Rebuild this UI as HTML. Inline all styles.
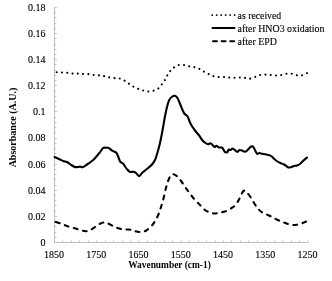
<!DOCTYPE html>
<html><head><meta charset="utf-8"><title>FTIR spectra</title>
<style>
html,body{margin:0;padding:0;background:#fff;}
body{width:332px;height:281px;overflow:hidden;}
svg{display:block;}
text{font-family:"Liberation Serif","Times New Roman",serif;font-size:10px;fill:#000;stroke:#000;stroke-width:0.12px;}
.b{font-weight:bold;stroke:none;}
</style></head><body>
<svg width="332" height="281" viewBox="0 0 332 281">
<rect width="332" height="281" fill="#fff"/>
<path d="M54.50 7.50 V242.50 H308.00 M54.50 242.50 h2.4 M54.50 237.50 h1.8 M54.50 232.50 h1.8 M54.50 226.50 h1.8 M54.50 221.50 h1.8 M54.50 216.50 h2.4 M54.50 211.50 h1.8 M54.50 205.50 h1.8 M54.50 200.50 h1.8 M54.50 195.50 h1.8 M54.50 190.50 h2.4 M54.50 185.50 h1.8 M54.50 179.50 h1.8 M54.50 174.50 h1.8 M54.50 169.50 h1.8 M54.50 164.50 h2.4 M54.50 158.50 h1.8 M54.50 153.50 h1.8 M54.50 148.50 h1.8 M54.50 143.50 h1.8 M54.50 138.50 h2.4 M54.50 132.50 h1.8 M54.50 127.50 h1.8 M54.50 122.50 h1.8 M54.50 117.50 h1.8 M54.50 111.50 h2.4 M54.50 106.50 h1.8 M54.50 101.50 h1.8 M54.50 96.50 h1.8 M54.50 91.50 h1.8 M54.50 85.50 h2.4 M54.50 80.50 h1.8 M54.50 75.50 h1.8 M54.50 70.50 h1.8 M54.50 64.50 h1.8 M54.50 59.50 h2.4 M54.50 54.50 h1.8 M54.50 49.50 h1.8 M54.50 44.50 h1.8 M54.50 38.50 h1.8 M54.50 33.50 h2.4 M54.50 28.50 h1.8 M54.50 23.50 h1.8 M54.50 17.50 h1.8 M54.50 12.50 h1.8 M54.50 7.50 h2.4 M54.50 242.50 v-1.9 M62.50 242.50 v-1.9 M71.50 242.50 v-1.9 M79.50 242.50 v-1.9 M88.50 242.50 v-1.9 M96.50 242.50 v-1.9 M105.50 242.50 v-1.9 M113.50 242.50 v-1.9 M122.50 242.50 v-1.9 M130.50 242.50 v-1.9 M138.50 242.50 v-1.9 M147.50 242.50 v-1.9 M155.50 242.50 v-1.9 M164.50 242.50 v-1.9 M172.50 242.50 v-1.9 M181.50 242.50 v-1.9 M189.50 242.50 v-1.9 M198.50 242.50 v-1.9 M206.50 242.50 v-1.9 M215.50 242.50 v-1.9 M223.50 242.50 v-1.9 M231.50 242.50 v-1.9 M240.50 242.50 v-1.9 M248.50 242.50 v-1.9 M257.50 242.50 v-1.9 M265.50 242.50 v-1.9 M274.50 242.50 v-1.9 M282.50 242.50 v-1.9 M291.50 242.50 v-1.9 M299.50 242.50 v-1.9 M308.50 242.50 v-1.9" fill="none" stroke="#b2b2b2" stroke-width="0.8"/>
<text x="45.6" y="245.50" text-anchor="end">0</text>
<text x="45.6" y="220.09" text-anchor="end">0.02</text>
<text x="45.6" y="193.98" text-anchor="end">0.04</text>
<text x="45.6" y="167.87" text-anchor="end">0.06</text>
<text x="45.6" y="141.06" text-anchor="end">0.08</text>
<text x="45.6" y="114.94" text-anchor="end">0.1</text>
<text x="45.6" y="88.83" text-anchor="end">0.12</text>
<text x="45.6" y="62.72" text-anchor="end">0.14</text>
<text x="45.6" y="36.61" text-anchor="end">0.16</text>
<text x="45.6" y="10.50" text-anchor="end">0.18</text>
<text x="54.00" y="257.9" text-anchor="middle">1850</text>
<text x="96.25" y="257.9" text-anchor="middle">1750</text>
<text x="138.50" y="257.9" text-anchor="middle">1650</text>
<text x="180.75" y="257.9" text-anchor="middle">1550</text>
<text x="223.00" y="257.9" text-anchor="middle">1450</text>
<text x="265.25" y="257.9" text-anchor="middle">1350</text>
<text x="307.50" y="257.9" text-anchor="middle">1250</text>
<text class="b" style="font-size:9.6px" x="169.5" y="267.5" text-anchor="middle" textLength="82.6" lengthAdjust="spacingAndGlyphs">Wavenumber (cm-1)</text>
<text class="b" transform="translate(15.5 127.5) rotate(-90)" text-anchor="middle">Absorbance (A.U.)</text>
<path d="M54.50 72.20 C54.88 72.21 55.50 72.20 56.75 72.25 C58.00 72.30 60.21 72.42 62.00 72.50 C63.79 72.58 65.67 72.57 67.50 72.75 C69.33 72.93 71.25 73.46 73.00 73.60 C74.75 73.74 76.29 73.53 78.00 73.60 C79.71 73.67 81.46 73.90 83.25 74.00 C85.04 74.10 86.96 74.03 88.75 74.20 C90.54 74.37 92.21 74.80 94.00 75.00 C95.79 75.20 97.75 75.20 99.50 75.40 C101.25 75.60 102.83 75.87 104.50 76.20 C106.17 76.53 107.75 77.07 109.50 77.40 C111.25 77.73 113.25 78.00 115.00 78.20 C116.75 78.40 118.42 78.20 120.00 78.60 C121.58 79.00 123.04 79.78 124.50 80.60 C125.96 81.42 127.21 82.47 128.75 83.50 C130.29 84.53 132.21 85.88 133.75 86.75 C135.29 87.62 136.46 88.12 138.00 88.75 C139.54 89.38 141.33 90.04 143.00 90.50 C144.67 90.96 146.29 91.46 148.00 91.50 C149.71 91.54 151.58 91.21 153.25 90.75 C154.92 90.29 156.67 89.71 158.00 88.75 C159.33 87.79 160.29 86.12 161.25 85.00 C162.21 83.88 163.04 83.04 163.75 82.00 C164.46 80.96 164.88 79.92 165.50 78.75 C166.12 77.58 166.75 76.25 167.50 75.00 C168.25 73.75 168.96 72.50 170.00 71.25 C171.04 70.00 172.29 68.54 173.75 67.50 C175.21 66.46 177.08 65.42 178.75 65.00 C180.42 64.58 182.08 64.79 183.75 65.00 C185.42 65.21 187.08 65.92 188.75 66.25 C190.42 66.58 192.08 66.62 193.75 67.00 C195.42 67.38 197.17 67.79 198.75 68.50 C200.33 69.21 201.71 70.38 203.25 71.25 C204.79 72.12 206.38 72.96 208.00 73.75 C209.62 74.54 211.33 75.46 213.00 76.00 C214.67 76.54 216.29 76.83 218.00 77.00 C219.71 77.17 221.54 76.92 223.25 77.00 C224.96 77.08 226.50 77.38 228.25 77.50 C230.00 77.62 231.96 77.75 233.75 77.75 C235.54 77.75 237.25 77.50 239.00 77.50 C240.75 77.50 242.50 77.54 244.25 77.75 C246.00 77.96 247.71 78.88 249.50 78.75 C251.29 78.62 253.25 77.62 255.00 77.00 C256.75 76.38 258.33 75.40 260.00 75.00 C261.67 74.60 263.25 74.60 265.00 74.60 C266.75 74.60 268.67 74.85 270.50 75.00 C272.33 75.15 274.25 75.50 276.00 75.50 C277.75 75.50 279.25 75.29 281.00 75.00 C282.75 74.71 284.67 73.96 286.50 73.75 C288.33 73.54 290.21 73.50 292.00 73.75 C293.79 74.00 295.54 75.00 297.25 75.25 C298.96 75.50 300.58 75.62 302.25 75.25 C303.92 74.88 306.34 73.41 307.25 73.00 C308.16 72.59 307.62 72.83 307.70 72.80" fill="none" stroke="#000" stroke-width="2.1" stroke-linecap="round" stroke-linejoin="round" stroke-dasharray="0.01 5.28" stroke-dashoffset="-2.2"/>
<path d="M54.50 157.00 C55.14 157.29 58.92 159.00 60.00 159.50 C61.08 160.00 62.93 160.96 63.75 161.25 C64.57 161.54 66.12 161.56 67.00 162.00 C67.88 162.44 70.32 164.42 71.25 165.00 C72.18 165.58 74.12 166.77 75.00 167.00 C75.88 167.23 78.17 167.06 78.75 167.00 C79.33 166.94 79.56 166.47 80.00 166.50 C80.44 166.53 81.77 167.43 82.50 167.25 C83.23 167.07 85.38 165.55 86.25 165.00 C87.12 164.45 89.12 163.14 90.00 162.50 C90.88 161.86 92.88 160.35 93.75 159.50 C94.62 158.65 96.77 156.05 97.50 155.20 C98.23 154.35 99.36 153.04 100.00 152.20 C100.64 151.36 102.36 148.53 103.00 148.00 C103.64 147.47 104.85 147.71 105.50 147.70 C106.15 147.69 107.82 147.55 108.60 147.90 C109.38 148.25 111.31 150.15 112.20 150.70 C113.09 151.25 115.52 151.98 116.20 152.60 C116.88 153.22 117.58 155.02 118.00 156.00 C118.42 156.98 119.38 160.21 119.80 161.00 C120.22 161.79 121.17 162.46 121.60 162.80 C122.03 163.14 123.10 163.47 123.50 163.90 C123.90 164.33 124.50 165.79 125.00 166.50 C125.50 167.21 127.17 169.37 127.75 170.00 C128.33 170.63 129.30 171.69 130.00 171.90 C130.70 172.11 133.02 171.64 133.75 171.80 C134.48 171.96 135.61 172.73 136.25 173.25 C136.89 173.77 138.58 176.28 139.25 176.25 C139.92 176.22 141.33 173.67 142.00 173.00 C142.67 172.33 144.21 171.14 145.00 170.50 C145.79 169.86 147.93 168.20 148.75 167.50 C149.57 166.80 151.27 165.38 152.00 164.50 C152.73 163.62 154.36 161.40 155.00 160.00 C155.64 158.60 156.92 154.48 157.50 152.50 C158.08 150.52 159.42 145.57 160.00 143.00 C160.58 140.43 161.92 133.62 162.50 130.50 C163.08 127.38 164.42 119.22 165.00 116.25 C165.58 113.28 166.97 106.95 167.50 105.00 C168.03 103.05 168.97 100.46 169.50 99.50 C170.03 98.54 171.36 97.19 172.00 96.75 C172.64 96.31 174.36 95.60 175.00 95.75 C175.64 95.90 176.92 97.07 177.50 98.00 C178.08 98.93 179.42 102.35 180.00 103.75 C180.58 105.15 181.97 108.83 182.50 110.00 C183.03 111.17 183.92 113.02 184.50 113.75 C185.08 114.48 186.92 115.38 187.50 116.25 C188.08 117.12 189.06 120.23 189.50 121.25 C189.94 122.27 190.61 123.92 191.25 125.00 C191.89 126.08 194.12 129.33 195.00 130.50 C195.88 131.67 197.88 133.83 198.75 135.00 C199.62 136.17 201.71 139.57 202.50 140.50 C203.29 141.43 204.86 142.56 205.50 143.00 C206.14 143.44 207.42 144.22 208.00 144.25 C208.58 144.28 209.97 143.16 210.50 143.25 C211.03 143.34 212.03 144.56 212.50 145.00 C212.97 145.44 214.03 146.91 214.50 147.00 C214.97 147.09 216.00 145.69 216.50 145.75 C217.00 145.81 218.11 147.30 218.75 147.50 C219.39 147.70 221.42 147.21 222.00 147.50 C222.58 147.79 223.40 149.47 223.75 150.00 C224.10 150.53 224.56 151.77 225.00 152.00 C225.44 152.23 227.07 152.28 227.50 152.00 C227.93 151.72 228.35 149.83 228.70 149.60 C229.05 149.37 230.03 150.13 230.50 150.00 C230.97 149.87 232.16 148.48 232.70 148.50 C233.24 148.52 234.57 149.79 235.10 150.20 C235.62 150.61 236.69 152.02 237.20 152.00 C237.71 151.98 238.94 150.18 239.50 150.00 C240.06 149.82 241.50 150.32 242.00 150.50 C242.50 150.68 243.25 151.41 243.75 151.50 C244.25 151.59 245.67 151.57 246.25 151.25 C246.83 150.93 248.22 149.28 248.75 148.75 C249.28 148.22 250.31 147.04 250.75 146.75 C251.19 146.46 252.12 146.10 252.50 146.25 C252.88 146.40 253.65 147.42 254.00 148.00 C254.35 148.58 255.12 150.56 255.50 151.25 C255.88 151.94 256.78 153.70 257.25 153.90 C257.72 154.10 258.95 153.02 259.50 153.00 C260.05 152.98 261.33 153.60 262.00 153.75 C262.67 153.90 264.49 154.10 265.25 154.25 C266.01 154.40 267.77 154.77 268.50 155.00 C269.23 155.23 270.86 155.81 271.50 156.25 C272.14 156.69 273.36 158.17 274.00 158.75 C274.64 159.33 276.27 160.75 277.00 161.25 C277.73 161.75 279.49 162.65 280.25 163.00 C281.01 163.35 282.83 163.93 283.50 164.25 C284.17 164.57 285.42 165.37 286.00 165.75 C286.58 166.13 287.86 167.35 288.50 167.50 C289.14 167.65 290.86 167.18 291.50 167.00 C292.14 166.82 293.36 166.18 294.00 166.00 C294.64 165.82 296.27 165.76 297.00 165.50 C297.73 165.24 299.49 164.33 300.25 163.75 C301.01 163.17 302.71 161.23 303.50 160.50 C304.29 159.77 306.59 157.85 307.00 157.50" fill="none" stroke="#000" stroke-width="2.1" stroke-linecap="round" stroke-linejoin="round"/>
<path d="M54.50 221.50 C55.62 221.88 59.08 222.96 61.25 223.75 C63.42 224.54 65.42 225.54 67.50 226.25 C69.58 226.96 71.67 227.38 73.75 228.00 C75.83 228.62 77.92 229.46 80.00 230.00 C82.08 230.54 84.38 231.33 86.25 231.25 C88.12 231.17 89.58 230.33 91.25 229.50 C92.92 228.67 94.79 227.21 96.25 226.25 C97.71 225.29 98.75 224.38 100.00 223.75 C101.25 223.12 102.50 222.58 103.75 222.50 C105.00 222.42 106.04 222.71 107.50 223.25 C108.96 223.79 110.83 224.96 112.50 225.75 C114.17 226.54 115.83 227.42 117.50 228.00 C119.17 228.58 120.83 229.00 122.50 229.25 C124.17 229.50 125.83 229.38 127.50 229.50 C129.17 229.62 131.04 229.67 132.50 230.00 C133.96 230.33 134.79 231.17 136.25 231.50 C137.71 231.83 139.58 232.17 141.25 232.00 C142.92 231.83 144.58 231.46 146.25 230.50 C147.92 229.54 149.79 227.79 151.25 226.25 C152.71 224.71 153.75 223.33 155.00 221.25 C156.25 219.17 157.71 216.25 158.75 213.75 C159.79 211.25 160.42 208.96 161.25 206.25 C162.08 203.54 163.00 200.42 163.75 197.50 C164.50 194.58 165.04 191.46 165.75 188.75 C166.46 186.04 167.17 183.46 168.00 181.25 C168.83 179.04 169.88 176.67 170.75 175.50 C171.62 174.33 172.21 174.12 173.25 174.25 C174.29 174.38 175.67 175.08 177.00 176.25 C178.33 177.42 179.83 179.38 181.25 181.25 C182.67 183.12 184.04 185.42 185.50 187.50 C186.96 189.58 188.42 191.67 190.00 193.75 C191.58 195.83 193.25 198.04 195.00 200.00 C196.75 201.96 198.83 203.83 200.50 205.50 C202.17 207.17 203.42 208.83 205.00 210.00 C206.58 211.17 208.33 211.92 210.00 212.50 C211.67 213.08 213.33 213.50 215.00 213.50 C216.67 213.50 218.33 212.83 220.00 212.50 C221.67 212.17 223.33 212.08 225.00 211.50 C226.67 210.92 228.33 210.00 230.00 209.00 C231.67 208.00 233.54 207.00 235.00 205.50 C236.46 204.00 237.71 201.83 238.75 200.00 C239.79 198.17 240.42 196.04 241.25 194.50 C242.08 192.96 242.92 191.17 243.75 190.75 C244.58 190.33 245.21 191.08 246.25 192.00 C247.29 192.92 248.75 194.50 250.00 196.25 C251.25 198.00 252.50 200.54 253.75 202.50 C255.00 204.46 256.25 206.46 257.50 208.00 C258.75 209.54 259.79 210.71 261.25 211.75 C262.71 212.79 264.54 213.42 266.25 214.25 C267.96 215.08 269.58 215.79 271.50 216.75 C273.42 217.71 275.67 219.04 277.75 220.00 C279.83 220.96 282.12 221.79 284.00 222.50 C285.88 223.21 287.33 223.83 289.00 224.25 C290.67 224.67 292.33 225.00 294.00 225.00 C295.67 225.00 297.33 224.67 299.00 224.25 C300.67 223.83 302.54 223.08 304.00 222.50 C305.46 221.92 307.12 221.04 307.75 220.75" fill="none" stroke="#000" stroke-width="2.1" stroke-linecap="round" stroke-linejoin="round" stroke-dasharray="3.9 5.54" stroke-dashoffset="-1.5"/>
<path d="M212.2 15.1 H235" fill="none" stroke="#000" stroke-width="1.9" stroke-linecap="round" stroke-dasharray="0.01 4.48"/>
<path d="M212.5 28.1 H234.5" fill="none" stroke="#000" stroke-width="2" stroke-linecap="round"/>
<path d="M213 41.3 H235" fill="none" stroke="#000" stroke-width="2" stroke-linecap="round" stroke-dasharray="4 4.6"/>
<text x="237.6" y="18.6" textLength="43.6" lengthAdjust="spacingAndGlyphs">as received</text>
<text x="237.6" y="31.8" textLength="86.9" lengthAdjust="spacingAndGlyphs">after HNO3 oxidation</text>
<text x="237.6" y="45" textLength="39.4" lengthAdjust="spacingAndGlyphs">after EPD</text>
</svg>
</body></html>
